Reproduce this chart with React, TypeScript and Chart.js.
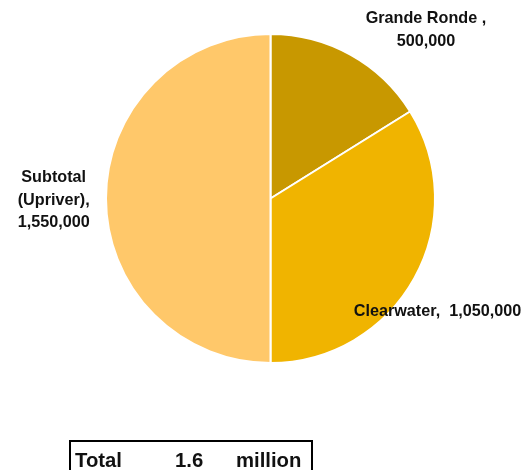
import React, { useEffect, useRef } from "react";
import { Chart, registerables } from "chart.js";

Chart.register(...registerables);

const categories = ["Grande Ronde", "Clearwater", "Subtotal (Upriver)"];
const values = [500000, 1050000, 1550000];
const labelLines = [
  ["Grande Ronde ,", "500,000"],
  ["Clearwater,  1,050,000"],
  ["Subtotal", "(Upriver),", "1,550,000"],
];
const sliceColors = ["#C89800", "#F0B400", "#FFC86A"];
const totalLabel = ["Total", "1.6", "million"];

const FONT = "'Liberation Sans', Arial, sans-serif";

const labelPlugin = {
  id: "sliceLabels",
  afterDraw(chart: any) {
    const ctx = chart.ctx;
    const meta = chart.getDatasetMeta(0);
    // label block centre, in units of the radius from the pie centre
    const offsets = [
      [0.945, -1.024],
      [1.015, 0.686],
      [-1.318, 0.012],
    ];
    ctx.save();
    ctx.fillStyle = "#111111";
    ctx.font = `bold 16.2px ${FONT}`;
    ctx.textAlign = "center";
    ctx.textBaseline = "middle";
    meta.data.forEach((arc: any, i: number) => {
      const p = arc.getProps(["x", "y", "outerRadius"], true);
      const cx = p.x + offsets[i][0] * p.outerRadius;
      const cy = p.y + offsets[i][1] * p.outerRadius;
      const lines = labelLines[i];
      const lh = 22.5;
      lines.forEach((t, k) => {
        ctx.fillText(t, cx, cy + (k - (lines.length - 1) / 2) * lh);
      });
    });
    // total box
    ctx.strokeStyle = "#000000";
    ctx.lineWidth = 2;
    ctx.strokeRect(70, 441, 242, 31);
    ctx.font = `bold 20.3px ${FONT}`;
    ctx.textAlign = "left";
    ctx.textBaseline = "alphabetic";
    ctx.fillText(totalLabel[0], 75, 467);
    ctx.fillText(totalLabel[1], 175, 467);
    ctx.fillText(totalLabel[2], 236, 467);
    ctx.restore();
  },
};

export default function App() {
  const ref = useRef<HTMLCanvasElement>(null);
  useEffect(() => {
    if (!ref.current) return;
    const chart = new Chart(ref.current, {
      type: "pie",
      data: {
        labels: categories,
        datasets: [
          {
            data: values,
            backgroundColor: sliceColors,
            borderColor: "#ffffff",
            borderWidth: 2,
          },
        ],
      },
      options: {
        responsive: false,
        animation: false,
        layout: { padding: { left: 105, right: 90, top: 33, bottom: 106 } },
        plugins: {
          legend: { display: false },
          tooltip: { enabled: false },
        },
      },
      plugins: [labelPlugin],
    });
    return () => chart.destroy();
  }, []);
  return (
    <div style={{ position: "fixed", left: 0, top: 0, width: 526, height: 470, background: "#fff" }}>
      <canvas ref={ref} width={526} height={470} style={{ display: "block" }} />
    </div>
  );
}
